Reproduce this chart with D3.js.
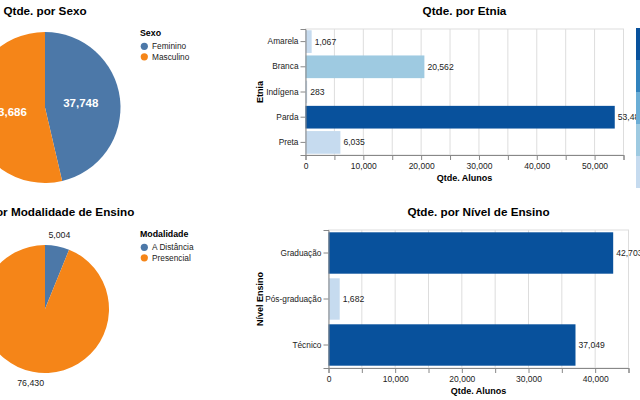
<!DOCTYPE html>
<html>
<head>
<meta charset="utf-8">
<script src="https://cdn.jsdelivr.net/npm/d3@7"></script>
<style>
  body { margin: 0; background: #fff; overflow: hidden; }
  svg { font-family: "Liberation Sans", Arial, Helvetica, sans-serif; display: block; }
</style>
</head>
<body>
<div id="dash"></div>
<script>
////////////////////  data  ////////////////////

var sexoCats = ["Feminino", "Masculino"];
var sexoVals = [37748, 43686];

var modalCats = ["A Distância", "Presencial"];
var modalVals = [5004, 76430];

var etniaCats = ["Amarela", "Branca", "Indígena", "Parda", "Preta"];
var etniaVals = [1067, 20562, 283, 53487, 6035];
var etniaTicks = [0, 10000, 20000, 30000, 40000, 50000];

var nivelCats = ["Graduação", "Pós-graduação", "Técnico"];
var nivelVals = [42703, 1682, 37049];
var nivelTicks = [0, 10000, 20000, 30000, 40000];

////////////////////  setup  ////////////////////

var fmt = d3.format(",");
var FONT = '"Liberation Sans", Arial, Helvetica, sans-serif';
var catColors = ["#4c78a8", "#f58518"];
var blues = ["#c6dbef", "#9ecae1", "#6baed6", "#3182bd", "#08519c"];

var svg = d3.select("#dash").append("svg")
  .attr("width", 640).attr("height", 400);

function title(x, y, txt) {
  svg.append("text")
    .attr("x", x).attr("y", y)
    .attr("text-anchor", "middle")
    .attr("font-size", 11.7).attr("font-weight", "bold")
    .text(txt);
}

////////////////////  pie charts  ////////////////////

function pieChart(opt) {
  var color = d3.scaleOrdinal().domain(opt.cats).range(catColors);
  var pie = d3.pie().sort(null).value(d => d.v);
  var data = pie(opt.cats.map((c, i) => ({ c: c, v: opt.vals[i] })));
  var arc = d3.arc().innerRadius(0).outerRadius(opt.r);
  var labelArc = d3.arc().innerRadius(opt.lr).outerRadius(opt.lr);

  var g = svg.append("g").attr("transform", `translate(${opt.cx},${opt.cy})`);
  g.selectAll("path").data(data).enter().append("path")
    .attr("d", arc)
    .attr("fill", d => color(d.data.c));

  g.selectAll("text").data(data).enter().append("text")
    .attr("transform", d => `translate(${labelArc.centroid(d)})`)
    .attr("text-anchor", "middle")
    .attr("dy", "0.35em")
    .attr("font-size", opt.inside ? 11.5 : 8.8)
    .attr("font-weight", opt.inside ? "bold" : "normal")
    .attr("fill", opt.inside ? "#fff" : "#222")
    .text(d => fmt(d.data.v));

  // legend
  var lg = svg.append("g").attr("transform", `translate(${opt.lx},${opt.ly})`);
  lg.append("text").attr("x", 0).attr("y", 0)
    .attr("font-size", 8.8).attr("font-weight", "bold")
    .text(opt.legendTitle);
  var items = lg.selectAll("g.item").data(opt.cats).enter().append("g")
    .attr("transform", (d, i) => `translate(0,${10.3 + i * 10.5})`);
  items.append("circle").attr("cx", 4.3).attr("cy", 0).attr("r", 3.6)
    .attr("fill", d => color(d));
  items.append("text").attr("x", 12).attr("y", 0).attr("dy", "0.35em")
    .attr("font-size", 8.3).attr("fill", "#222").text(d => d);
}

title(45, 15, "Qtde. por Sexo");
pieChart({ cats: sexoCats, vals: sexoVals, cx: 45, cy: 107.5, r: 75.5, lr: 36,
           inside: true, lx: 140, ly: 36, legendTitle: "Sexo" });

title(45, 216, "Qtde. por Modalidade de Ensino");
pieChart({ cats: modalCats, vals: modalVals, cx: 45, cy: 309, r: 64, lr: 75,
           inside: false, lx: 140, ly: 237, legendTitle: "Modalidade" });

////////////////////  bar charts  ////////////////////

function barChart(opt) {
  var x = d3.scaleLinear().domain([0, opt.max]).range([opt.x0, opt.x1]);
  var y = d3.scaleBand().domain(opt.cats).range([opt.y0, opt.y1])
    .paddingInner(0.1).paddingOuter(0.05);
  var color = d3.scaleQuantize().domain([0, d3.max(opt.vals)]).range(blues);
  var data = opt.cats.map((c, i) => ({ c: c, v: opt.vals[i] }));
  var g = svg.append("g");

  // grid + view frame
  var gridTicks = d3.range(0, opt.max + 1, 5000);
  g.append("g").selectAll("line").data(gridTicks).enter().append("line")
    .attr("x1", d => x(d)).attr("x2", d => x(d))
    .attr("y1", opt.y0).attr("y2", opt.y1)
    .attr("stroke", "#ddd");
  g.append("rect").attr("x", opt.x0).attr("y", opt.y0)
    .attr("width", opt.x1 - opt.x0).attr("height", opt.y1 - opt.y0)
    .attr("fill", "none").attr("stroke", "#ddd");

  g.selectAll("rect.bar").data(data).enter().append("rect")
    .attr("class", "bar")
    .attr("x", x(0)).attr("y", d => y(d.c))
    .attr("width", d => x(d.v) - x(0))
    .attr("height", y.bandwidth())
    .attr("fill", d => color(d.v));

  g.selectAll("text.val").data(data).enter().append("text")
    .attr("class", "val")
    .attr("x", d => x(d.v) + 3).attr("y", d => y(d.c) + y.bandwidth() / 2)
    .attr("dy", "0.35em").attr("font-size", 8.6).attr("fill", "#222")
    .text(d => fmt(d.v));

  // x axis
  var xAxis = d3.axisBottom(x).tickValues(gridTicks).tickSize(5).tickPadding(3)
    .tickFormat(d => opt.ticks.indexOf(d) >= 0 ? fmt(d) : "");
  var xg = g.append("g").attr("transform", `translate(0,${opt.y1})`).call(xAxis)
    .attr("font-family", FONT).attr("font-size", 8.5);
  xg.select(".domain").attr("stroke", "#888");
  xg.selectAll(".tick line").attr("stroke", "#888");
  xg.selectAll(".tick text").attr("fill", "#222");

  g.append("text").attr("x", (opt.x0 + opt.x1) / 2).attr("y", opt.y1 + 26)
    .attr("text-anchor", "middle").attr("font-size", 9).attr("font-weight", "bold")
    .text("Qtde. Alunos");

  // y axis
  var yAxis = d3.axisLeft(y).tickSize(5).tickPadding(2);
  var yg = g.append("g").attr("transform", `translate(${opt.x0},0)`).call(yAxis)
    .attr("font-family", FONT).attr("font-size", 8.3);
  yg.select(".domain").attr("stroke", "#888");
  yg.selectAll(".tick line").attr("stroke", "#888");
  yg.selectAll(".tick text").attr("fill", "#222");

  g.append("text")
    .attr("transform", `translate(262.5,${(opt.y0 + opt.y1) / 2}) rotate(-90)`)
    .attr("text-anchor", "middle").attr("font-size", 9).attr("font-weight", "bold")
    .text(opt.yTitle);

  title((opt.x0 + opt.x1) / 2, opt.titleY, opt.title);
  return color;
}

barChart({ cats: etniaCats, vals: etniaVals, ticks: etniaTicks, max: 55000,
  x0: 305.5, x1: 623.5, y0: 29, y1: 155, yTitle: "Etnia",
  title: "Qtde. por Etnia", titleY: 15 });

barChart({ cats: nivelCats, vals: nivelVals, ticks: nivelTicks, max: 45000,
  x0: 328.5, x1: 628.5, y0: 230, y1: 368, yTitle: "Nível Ensino",
  title: "Qtde. por Nível de Ensino", titleY: 216 });

// colour legend for the Etnia chart (mostly off the page)
var legY = d3.scaleBand().domain(d3.range(blues.length)).range([28, 188]);
svg.append("g").selectAll("rect").data(blues.slice().reverse()).enter().append("rect")
  .attr("x", 636).attr("y", (d, i) => legY(i))
  .attr("width", 16).attr("height", legY.bandwidth())
  .attr("fill", d => d);
</script>
</body>
</html>
